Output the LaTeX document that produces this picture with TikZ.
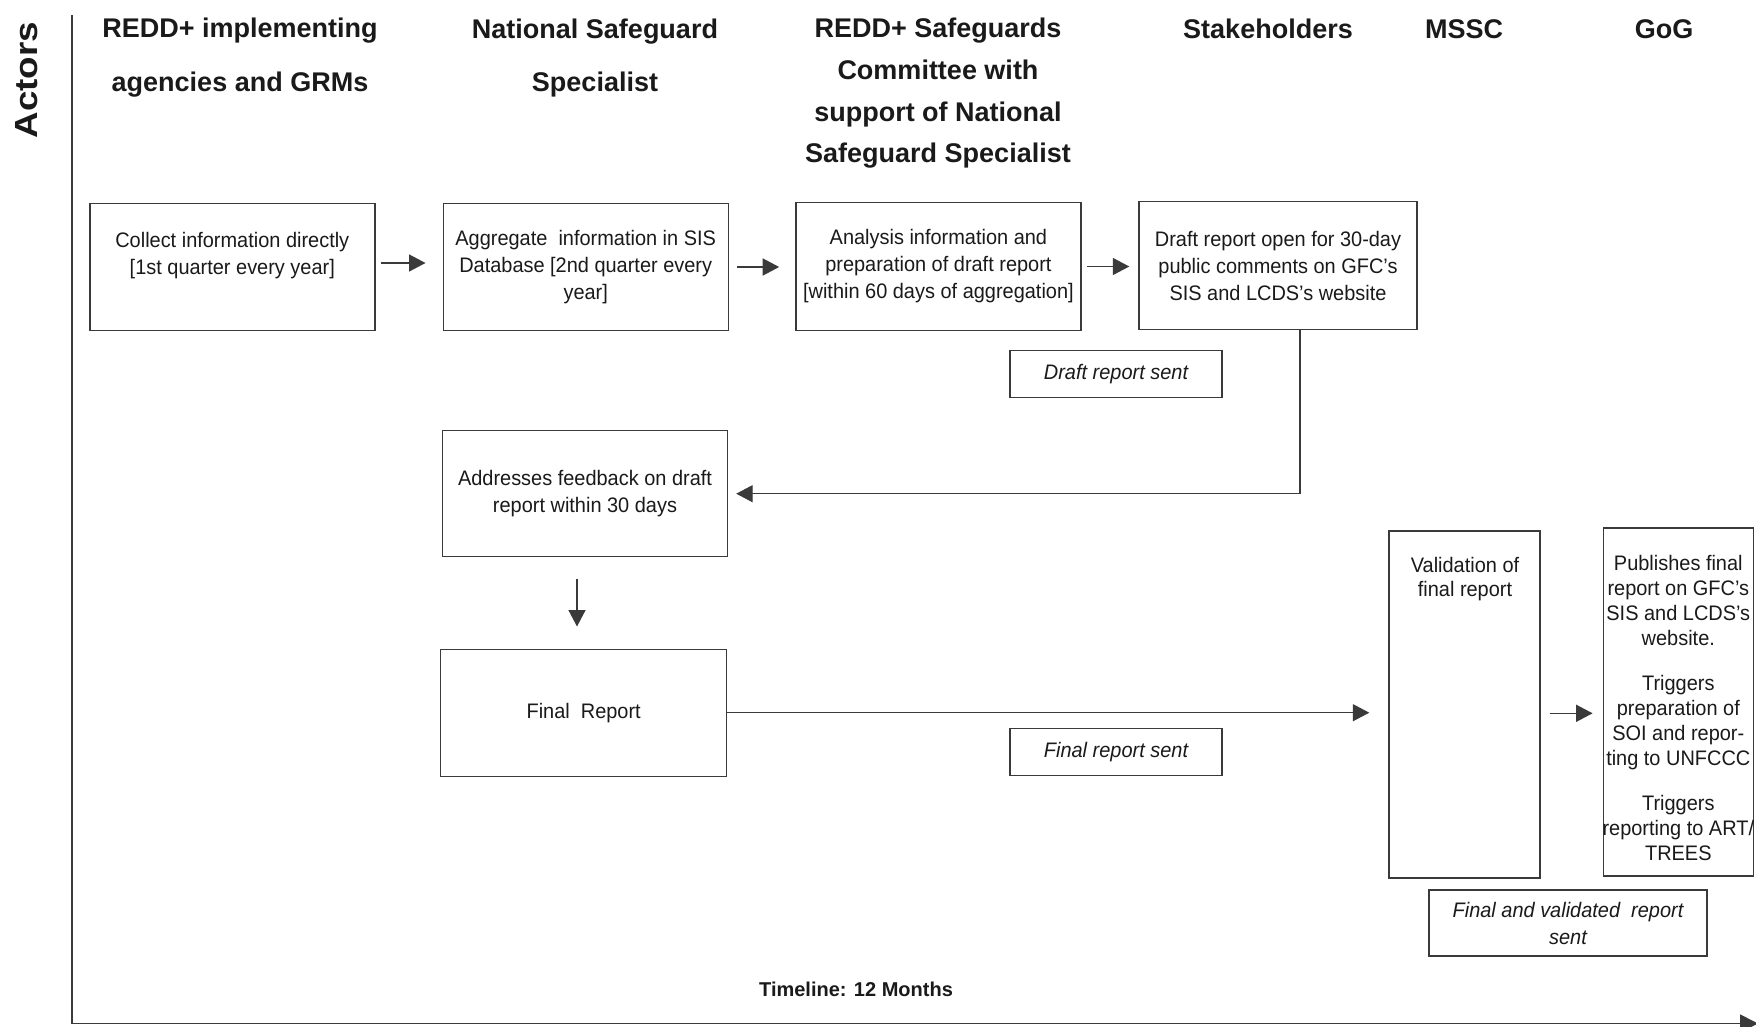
\documentclass[tikz,border=0pt]{standalone}
\usepackage{fontspec}
\setmainfont{Liberation Sans}
\newfontfamily\bodyfont[FakeStretch=0.95]{Liberation Sans}
\newfontfamily\actorsfont[FakeStretch=1.15]{Liberation Sans}
\usetikzlibrary{arrows.meta}
\definecolor{linec}{HTML}{3A3A3A}
\definecolor{textc}{HTML}{1A1A1A}
\begin{document}
\begin{tikzpicture}[x=1pt,y=-1pt,
  box/.style={draw=linec, line width=1.4pt, inner sep=0pt, align=center, text=textc,
    font=\bodyfont\fontsize{21}{27}\selectfont},
  lab/.style={box, font=\bodyfont\itshape\fontsize{21}{27}\selectfont},
  txt/.style={inner sep=0pt, align=center, text=textc},
  head/.style={anchor=base, inner sep=0pt, text=textc, font=\bfseries\fontsize{27}{32}\selectfont},
  arr/.style={draw=linec, line width=1.4pt, -{Triangle[length=16.5pt,width=17pt]}},
  axis/.style={draw=linec, line width=1.8pt}
]
\useasboundingbox (0,0) rectangle (1756,1026);
\fill[white] (0,0) rectangle (1756,1026);

% axis
\coordinate (axtop) at (72,15);
\coordinate (axorig) at (72,1023.5);
\coordinate (axend) at (1758,1023.5);
\draw[axis] (axtop) -- (axorig);
\draw[axis, -{Triangle[length=18pt,width=18pt]}] (axorig) -- (axend);

\node[txt, rotate=90, font=\actorsfont\bfseries\fontsize{32}{36}\selectfont] (actors) at (26.5,80) {Actors};
\node[txt, font=\bfseries\fontsize{20}{24}\selectfont] (timeline) at (856,989) {Timeline: 12 Months};

% headers
\node[head] (h1a) at (240,37.7) {REDD+ implementing};
\node[head] (h1b) at (240,91.7) {agencies and GRMs};
\node[head] (h2a) at (595,38) {National Safeguard};
\node[head] (h2b) at (595,91.7) {Specialist};
\node[head] (h3a) at (938,37.7) {REDD+ Safeguards};
\node[head] (h3b) at (938,79.8) {Committee with};
\node[head] (h3c) at (938,121) {support of National};
\node[head] (h3d) at (938,162.5) {Safeguard Specialist};
\node[head] (h4) at (1268,38.5) {Stakeholders};
\node[head] (h5) at (1464,38.5) {MSSC};
\node[head] (h6) at (1664,38.5) {GoG};

% top row boxes
\node[box, minimum width=285pt, minimum height=127pt] (b1) at (232.3,267)
  {Collect information directly\\{}[1st quarter every year]\\\mbox{}};
\node[box, minimum width=285pt, minimum height=127pt] (b2) at (585.7,267)
  {Aggregate\ \ information in SIS\\Database [2nd quarter every\\year]};
\node[box, minimum width=285pt, minimum height=128pt] (b3) at (938.4,266.5)
  {Analysis information and\\preparation of draft report\\{}[within 60 days of aggregation]};
\node[box, minimum width=278pt, minimum height=128pt] (b4) at (1278,265.5)
  {Draft report open for 30-day\\public comments on GFC’s\\SIS and LCDS’s website};

\node[lab, minimum width=212pt, minimum height=47pt] (dsent) at (1116,374) {Draft report sent};

% middle boxes
\node[box, minimum width=285pt, minimum height=126pt] (addr) at (585,493.7)
  {Addresses feedback on draft\\report within 30 days};
\node[box, minimum width=286pt, minimum height=127pt] (final) at (583.7,712.7)
  {Final\ \ Report};
\node[lab, minimum width=212pt, minimum height=47pt] (fsent) at (1116,751.7) {Final report sent};

% right boxes
\node[box, minimum width=151pt, minimum height=347pt] (val) at (1464.5,704.3) {};
\node[txt, font=\bodyfont\fontsize{21}{24}\selectfont] (valtxt) at (1465,578.7)
  {Validation of\\final report};
\node[box, minimum width=150pt, minimum height=348pt] (gog) at (1678.3,702) {};
\node[txt, font=\bodyfont\fontsize{21}{25}\selectfont] (gogtxt) at (1678.3,708)
  {Publishes final\\report on GFC’s\\SIS and LCDS’s\\website.\\[20pt]Triggers\\preparation of\\SOI and repor-\\ting to UNFCCC\\[20pt]Triggers\\reporting to ART/\\TREES};
\node[lab, minimum width=278pt, minimum height=66pt] (fvsent) at (1568,923)
  {Final and validated\ \ report\\sent};

% connectors
\draw[arr, shorten <=5pt, shorten >=17pt] ([yshift=4pt]b1.east) -- ([yshift=4pt]b1.east -| b2.west);
\draw[arr, shorten <=8pt, shorten >=16pt] (b2.east) -- (b2.east -| b3.west);
\draw[arr, shorten <=5pt, shorten >=9pt] (b3.east) -- (b3.east -| b4.west);
\draw[arr, shorten >=8pt] ([xshift=22pt]b4.south) |- (addr.east);
\draw[arr, shorten <=22pt, shorten >=22pt] ([xshift=-8pt]addr.south) -- ([xshift=-8pt]addr.south |- final.north);
\draw[arr, shorten >=19pt] (final.east) -- (final.east -| val.west);
\draw[arr, shorten <=9pt, shorten >=10pt] ([yshift=-9pt]val.east) -- ([yshift=-9pt]val.east -| gog.west);
\end{tikzpicture}
\end{document}
